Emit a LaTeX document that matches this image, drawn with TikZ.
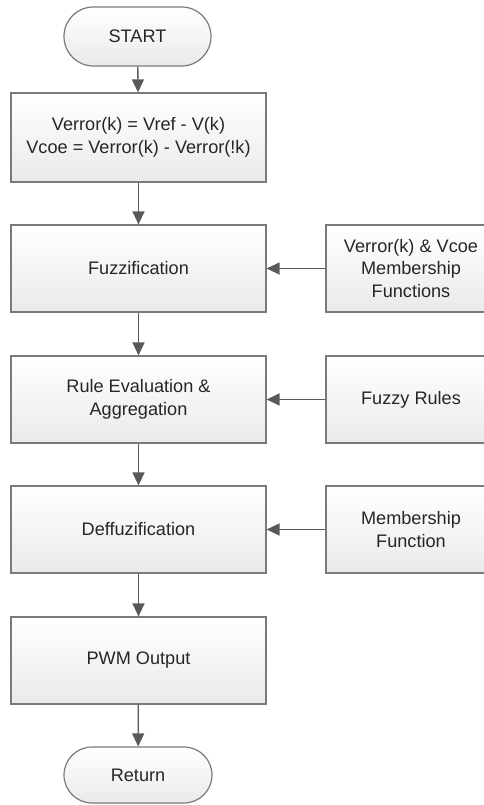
\documentclass[tikz,border=0pt]{standalone}
\usepackage{fontspec}
\setmainfont{Liberation Sans}
\usetikzlibrary{arrows.meta}
\definecolor{bordercol}{HTML}{7A7A7A}
\definecolor{arrowcol}{HTML}{595959}
\definecolor{textcol}{HTML}{262626}
\definecolor{fillbot}{HTML}{EAEAEA}
\begin{document}
\begin{tikzpicture}[x=0.75pt,y=-0.75pt,
  base/.style={draw=bordercol, line width=0.9pt, top color=white, bottom color=fillbot,
    text=textcol, align=center, inner sep=0pt,
    font=\fontsize{13.6}{17}\selectfont},
  procbox/.style={base, minimum width=191.25pt, minimum height=65.25pt},
  sidebox/.style={base, minimum width=127.5pt, minimum height=65.25pt},
  term/.style={base, rounded corners=21pt},
  flow/.style={draw=arrowcol, line width=1pt, -{Triangle[length=9.75pt,width=9pt]}, arrowcol}
]
\useasboundingbox (0,0) rectangle (483,805);
\node[term, minimum width=110.25pt, minimum height=44.25pt, rounded corners=22pt] (start) at (137.5,36.5) {START};
\node[procbox, minimum height=66.75pt] (calc) at (138.5,137.5) {Verror(k) = Vref - V(k)\\Vcoe = Verror(k) - Verror(!k)};
\node[procbox] (fuzz) at (138.5,268.5) {Fuzzification};
\node[procbox] (rule) at (138.5,399.5) {Rule Evaluation \&\\Aggregation};
\node[procbox] (deff) at (138.5,529.5) {Deffuzification};
\node[procbox] (pwm) at (138.5,660.5) {PWM Output};
\node[term, minimum width=111pt, minimum height=42pt, rounded corners=21pt] (ret) at (138,775) {Return};
\node[sidebox] (mf1) at (411,268.5) {Verror(k) \& Vcoe\\Membership\\Functions};
\node[sidebox] (fr) at (411,399.5) {Fuzzy Rules};
\node[sidebox] (mf2) at (411,529.5) {Membership\\Function};
\draw[flow] (start) -- (calc);
\draw[flow] (calc) -- (fuzz);
\draw[flow] (fuzz) -- (rule);
\draw[flow] (rule) -- (deff);
\draw[flow] (deff) -- (pwm);
\draw[flow] (pwm) -- (ret);
\draw[flow] (mf1) -- (fuzz);
\draw[flow] (fr) -- (rule);
\draw[flow] (mf2) -- (deff);
\end{tikzpicture}
\end{document}
